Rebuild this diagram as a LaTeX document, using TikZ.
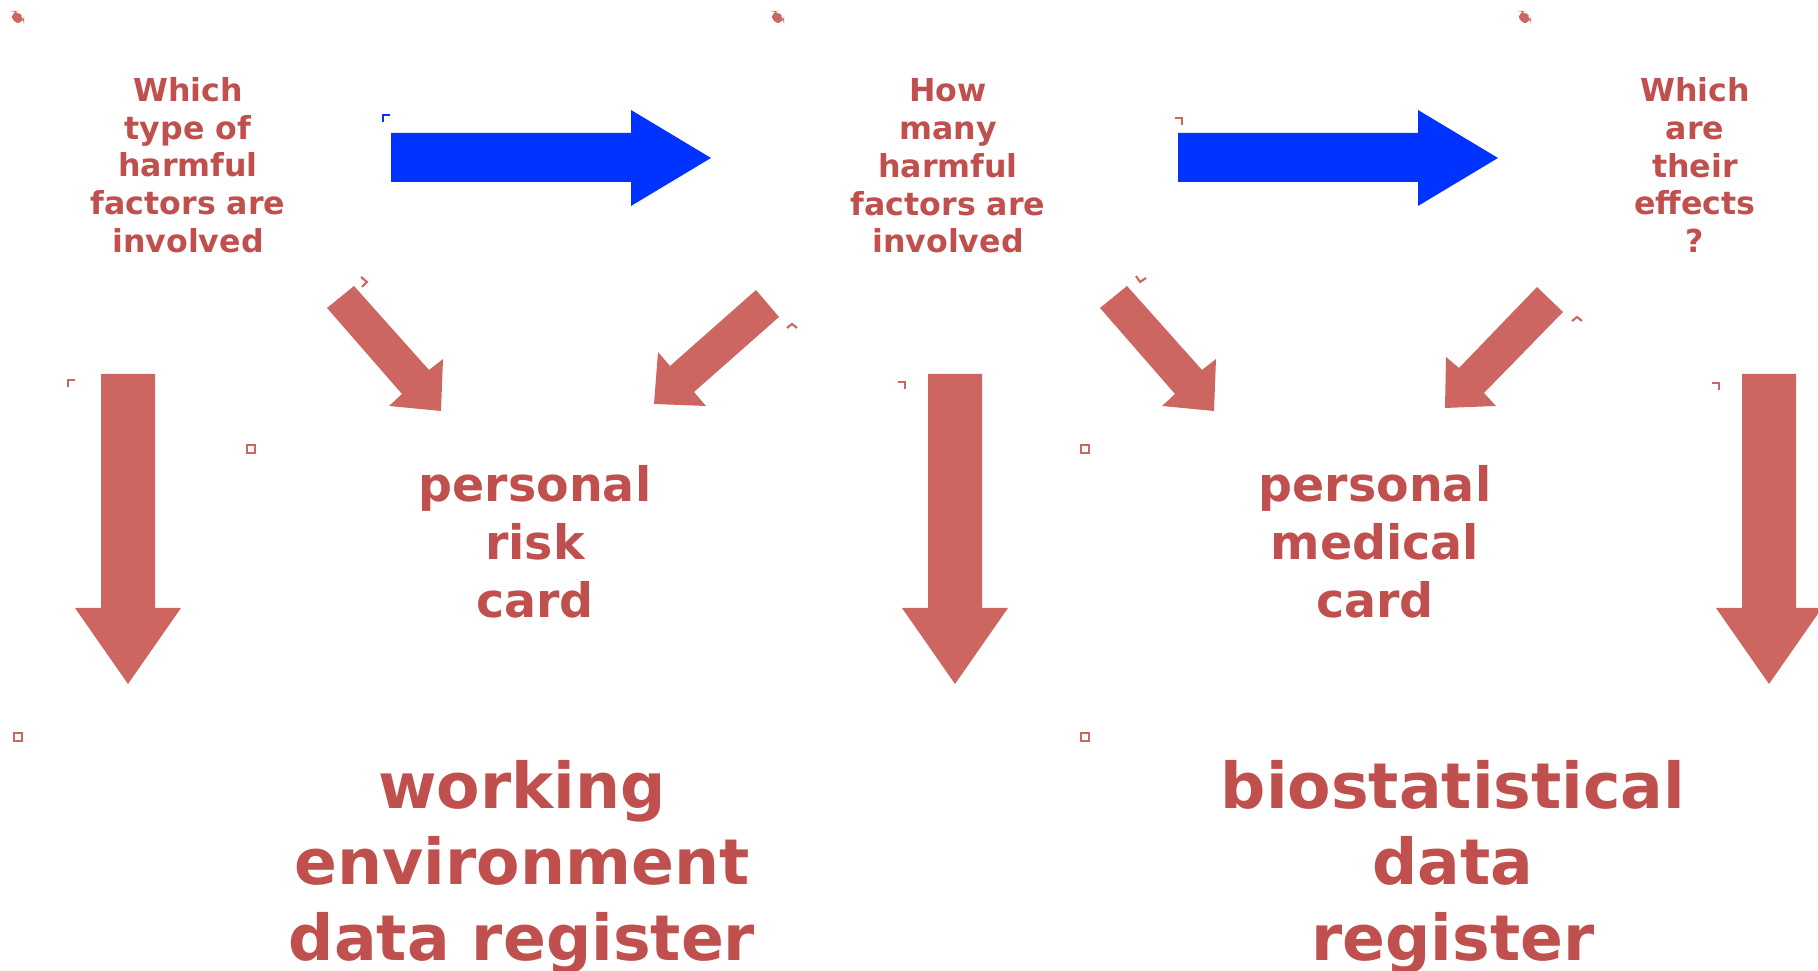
\documentclass[tikz,border=0pt]{standalone}
\usepackage{fontspec}
\setmainfont{DejaVu Sans}
\definecolor{txtred}{RGB}{192, 80, 77}
\definecolor{arrred}{RGB}{205, 102, 97}
\definecolor{arrblue}{RGB}{0, 51, 255}

\begin{document}
\begin{tikzpicture}[x=0.01cm, y=-0.01cm,
    question/.style={text=txtred, align=center, inner sep=0pt, font=\bfseries\fontsize{9.0}{10.74}\selectfont},
    cardtext/.style={text=txtred, align=center, inner sep=0pt, font=\bfseries\fontsize{13.5}{16.5}\selectfont},
    regtext/.style={text=txtred, align=center, inner sep=0pt, font=\bfseries\fontsize{18.0}{21.6}\selectfont},
    blockarrow/.style={fill=arrred},
    flowarrow/.style={fill=arrblue},
    handle/.style={draw=arrred, line width=0.6pt}]
                \useasboundingbox (0,0) rectangle (1818,971);

                % Questions
                \node[question] (q1) at (188,165) {Which\\type of\\harmful\\factors are\\involved};
                \node[question] (q2) at (948,166) {How\\many\\harmful\\factors are\\involved};
                \node[question] (q3) at (1695,165) {Which\\are\\their\\effects\\?};

                % Cards
                \node[cardtext] (card1) at (535,542) {personal\\risk\\card};
                \node[cardtext] (card2) at (1375,542) {personal\\medical\\card};

                % Registers
                \node[regtext] (reg1) at (522,867) {working\\environment\\data register};
                \node[regtext] (reg2) at (1453,867) {biostatistical\\data\\register};

                % Blue arrows between the questions
                \foreach \dx in {0, 787} {
                    \fill[flowarrow, shift={(\dx,0)}] (391,133) -- (631,133) -- (631,110) -- (711,158)
                        -- (631,206) -- (631,182) -- (391,182) -- cycle;
                }

                % Down arrows to the registers
                \foreach \cx in {128, 955, 1769} {
                    \fill[blockarrow, shift={(\cx,0)}] (-27,374) -- (27,374) -- (27,608) -- (53,608)
                        -- (0,684) -- (-53,608) -- (-27,608) -- cycle;
                }

                % Diagonal arrows to the cards
                \foreach \dx in {0, 773} {
                    \fill[blockarrow, shift={(\dx,0)}] (327,308) -- (354,286) -- (429,370) -- (443,359)
                        -- (441,411) -- (389,406) -- (402,394) -- cycle;
                }
                \fill[blockarrow] (756,290) -- (779,317) -- (694,392) -- (706,406)
                    -- (654,404) -- (658,352) -- (670,366) -- cycle;
                \fill[blockarrow] (1537,287) -- (1563,312) -- (1484,393) -- (1496,406)
                    -- (1445,408) -- (1446,357) -- (1459,368) -- cycle;

                % Small handles
                \foreach \hx in {12, 772, 1519} {
                    \fill[arrred, rounded corners=2, shift={(\hx,0)}] (0,11) -- (5,11) -- (12,18) -- (12,23) -- (0,23) -- cycle;
                }
                \draw[draw=arrblue, line width=0.6pt] (383,122) -- (383,115) -- (390,115);
                \draw[handle] (68,387) -- (68,380) -- (75,380);
                \foreach \hx/\hy in {1182/118, 905/382, 1719/383} {
                    \draw[handle] (\hx-7,\hy) -- (\hx,\hy) -- (\hx,\hy+7);
                }
                \foreach \hx/\hy in {792/324, 1577/317} {
                    \draw[handle] (\hx-5,\hy+4) -- (\hx,\hy) -- (\hx+5,\hy+4);
                }
                \draw[handle] (361,277) -- (367,282) -- (362,287);
                \draw[handle] (1136,276) -- (1140,282) -- (1146,278);
                \foreach \hx/\hy in {251/449, 18/737, 1085/449, 1085/737} {
                    \draw[handle] (\hx-4,\hy-4) rectangle (\hx+4,\hy+4);
                }
            \end{tikzpicture}
\end{document}
